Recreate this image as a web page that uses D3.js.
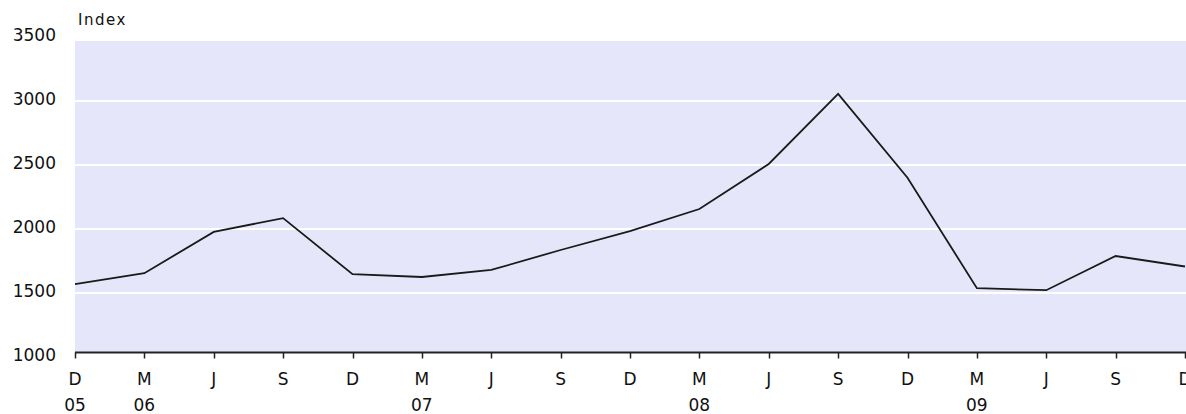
<!DOCTYPE html>
<html>
<head>
<meta charset="utf-8">
<script src="https://cdn.jsdelivr.net/npm/d3@7"></script>
<style>
  html, body { margin: 0; padding: 0; background: #ffffff; }
  svg { display: block; }
  text { font-family: "DejaVu Sans", sans-serif; fill: #111; }
</style>
</head>
<body>
<svg id="chart" width="1186" height="414"></svg>
<script>
// Quarterly index values, Dec 2005 – Dec 2009
const quarters = ["D", "M", "J", "S", "D", "M", "J", "S", "D", "M", "J", "S", "D", "M", "J", "S", "D"];
const years    = ["05", "06", "", "", "", "07", "", "", "", "08", "", "", "", "09", "", "", ""];
const values   = [1570, 1655, 1977, 2085, 1647, 1625, 1680, 1836, 1984, 2156, 2508, 3055, 2400, 1538, 1522, 1789, 1707];
const yTicks   = [1000, 1500, 2000, 2500, 3000, 3500];
const yLabel   = "Index";

const svg = d3.select("#chart");
const left = 75, right = 1185, plotTop = 41, axisY = 352.5;

const x = d3.scaleLinear().domain([0, quarters.length - 1]).range([left, right]);
const y = d3.scaleLinear().domain([1000, 3500]).range([357, 37]);

// plot background
svg.append("rect")
  .attr("x", left).attr("y", plotTop)
  .attr("width", 1186 - left).attr("height", axisY - plotTop)
  .attr("fill", "#e6e6fb");

// gridlines
svg.append("g").selectAll("line")
  .data(yTicks.filter(d => d > 1000 && d < 3500))
  .join("line")
  .attr("x1", left).attr("x2", 1186)
  .attr("y1", d => y(d)).attr("y2", d => y(d))
  .attr("stroke", "#ffffff").attr("stroke-width", 2);

// y tick labels
svg.append("g").selectAll("text")
  .data(yTicks)
  .join("text")
  .attr("x", 56)
  .attr("y", d => y(d) - 1)
  .attr("text-anchor", "end")
  .attr("dominant-baseline", "middle")
  .style("font-size", "17px")
  .text(d => d);

// y label
svg.append("text")
  .attr("x", 78).attr("y", 25)
  .style("font-size", "15px")
  .style("letter-spacing", "1.5px")
  .text(yLabel);

// x axis line
svg.append("line")
  .attr("x1", left).attr("x2", 1186)
  .attr("y1", axisY).attr("y2", axisY)
  .attr("stroke", "#222").attr("stroke-width", 2);

// x ticks
svg.append("g").selectAll("line")
  .data(quarters)
  .join("line")
  .attr("x1", (d, i) => Math.round(x(i)) + 0.5)
  .attr("x2", (d, i) => Math.round(x(i)) + 0.5)
  .attr("y1", axisY).attr("y2", axisY + 6)
  .attr("stroke", "#222").attr("stroke-width", 1.5);

svg.append("g").selectAll("text")
  .data(quarters)
  .join("text")
  .attr("x", (d, i) => x(i))
  .attr("y", 380)
  .attr("text-anchor", "middle")
  .attr("dominant-baseline", "middle")
  .style("font-size", "17px")
  .text(d => d);

svg.append("g").selectAll("text")
  .data(years)
  .join("text")
  .attr("x", (d, i) => x(i))
  .attr("y", 406)
  .attr("text-anchor", "middle")
  .attr("dominant-baseline", "middle")
  .style("font-size", "17px")
  .text(d => d);

// data line
const line = d3.line().x((d, i) => x(i)).y(d => y(d));
svg.append("path")
  .datum(values)
  .attr("d", line)
  .attr("fill", "none")
  .attr("stroke", "#1a1a1a")
  .attr("stroke-width", 1.8)
  .attr("stroke-linejoin", "miter");
</script>
</body>
</html>
